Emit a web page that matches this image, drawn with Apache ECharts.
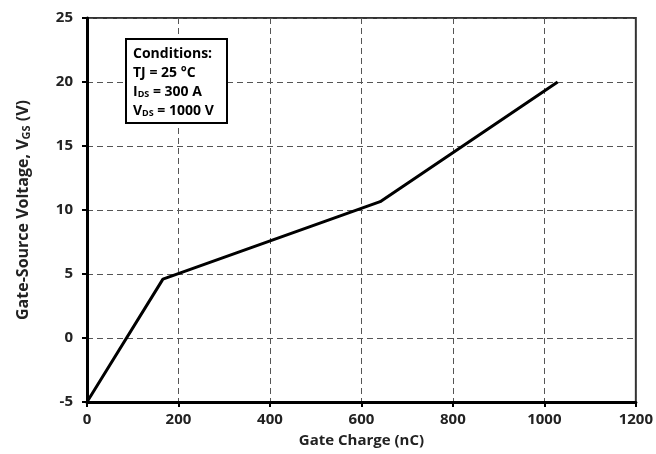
<!DOCTYPE html>
<html><head><meta charset="utf-8">
<script src="https://cdn.jsdelivr.net/npm/echarts@6/dist/echarts.min.js"></script>
<style>html,body{margin:0;padding:0;background:#fff}#c{width:656px;height:454px}</style>
</head><body><div id="c"></div>
<script>
const chargeNC = [0, 166, 641, 1029];
const vgsV = [-5, 4.6, 10.65, 20];
const xTicks = {min: 0, max: 1200, interval: 200};
const yTicks = {min: -5, max: 25, interval: 5};
const conditions = ['Conditions:', 'TJ = 25 °C', 'I_DS = 300 A', 'V_DS = 1000 V'];

const FONT = '"Open Sans", "Liberation Sans", sans-serif';
const chart = echarts.init(document.getElementById('c'));
function sub(line){
  const m = line.match(/^(\w)_(\w+)(.*)$/);
  if(!m) return '{t|'+line+'}';
  return '{t|'+m[1]+'}{s|'+m[2]+'}{t|'+m[3]+'}';
}
chart.setOption({
  animation:false,
  grid:{left:87,right:17,top:18,bottom:52,show:true,borderColor:'#333',borderWidth:2,backgroundColor:'#fff'},
  xAxis:{type:'value',min:xTicks.min,max:xTicks.max,interval:xTicks.interval,
    name:'Gate Charge (nC)',nameLocation:'middle',nameGap:31,
    nameTextStyle:{fontFamily:FONT,fontWeight:'bold',fontSize:15,color:'#222'},
    axisLine:{show:true,onZero:false,lineStyle:{color:'#000',width:3}},
    axisTick:{show:true,length:5,lineStyle:{color:'#000',width:2}},
    axisLabel:{fontFamily:FONT,fontWeight:'bold',fontSize:15,color:'#222',margin:10,formatter:v=>String(v)},
    splitLine:{show:true,lineStyle:{color:'#555',type:[6,4],width:1}}},
  yAxis:{type:'value',min:yTicks.min,max:yTicks.max,interval:yTicks.interval,
    name:'{a|Gate-Source Voltage, V}{s|GS}{a| (V)}',nameLocation:'middle',nameGap:55,
    nameTextStyle:{rich:{a:{fontFamily:FONT,fontWeight:'bold',fontSize:16,color:'#222'},
      s:{fontFamily:FONT,fontWeight:'bold',fontSize:11,color:'#222',verticalAlign:'bottom',padding:[6,0,0,0]}}},
    axisLine:{show:true,onZero:false,lineStyle:{color:'#000',width:3}},
    axisTick:{show:true,length:5,lineStyle:{color:'#000',width:2}},
    axisLabel:{fontFamily:FONT,fontWeight:'bold',fontSize:15,color:'#222',margin:14,formatter:v=>String(v)},
    splitLine:{show:true,lineStyle:{color:'#555',type:[6,4],width:1}}},
  series:[{type:'line',data:chargeNC.map((x,i)=>[x,vgsV[i]]),showSymbol:false,
    lineStyle:{color:'#000',width:3},z:5}],
  graphic:[{type:'rect',left:125,top:38,shape:{width:101,height:84},
      style:{fill:'#fff',stroke:'#000',lineWidth:2},z:10},
    {type:'text',left:133,top:47,z:11,style:{
      text:conditions.map(sub).join('\n'),
      rich:{t:{fontFamily:FONT,fontWeight:'bold',fontSize:14,color:'#000',lineHeight:19},
        s:{fontFamily:FONT,fontWeight:'bold',fontSize:9,color:'#000',lineHeight:19,padding:[5,0,0,0]}}}}]
});
</script></body></html>
